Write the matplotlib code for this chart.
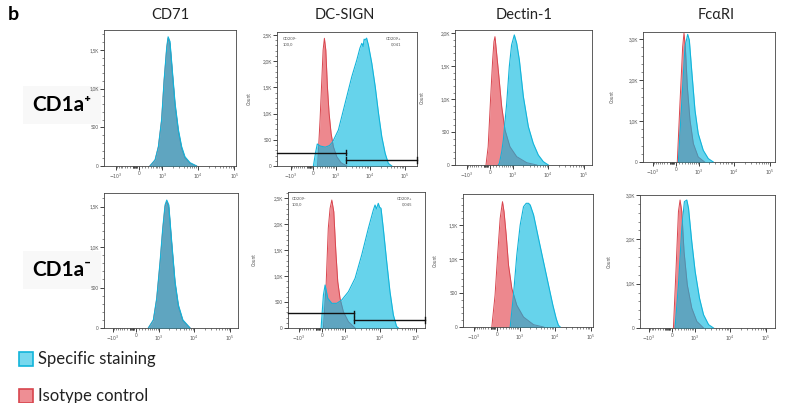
import numpy as np
import matplotlib
matplotlib.use('Agg')
import matplotlib.pyplot as plt
from matplotlib.patches import Rectangle
from matplotlib.ticker import FixedLocator, FixedFormatter

plt.rcParams['font.family'] = ['Lato', 'DejaVu Sans']

# ---------------- data ----------------
markers = ['CD71', 'DC-SIGN', 'Dectin-1', 'FcαRI']
populations = ['CD1a⁺', 'CD1a⁻']
legend_labels = ['Specific staining', 'Isotype control']

x_ticks = [-1000, 0, 1000, 10000, 100000]
x_ticklabels = [r'$-10^3$', '0', r'$10^3$', r'$10^4$', r'$10^5$']

# CD1a+ row
cd71_pos_x = [360, 580, 750, 950, 1130, 1350, 1480, 1670, 1980, 2330, 2890, 3550, 4380, 6040, 9180]
cd71_pos_spec = [0, 80, 250, 600, 1110, 1540, 1670, 1610, 1200, 810, 465, 250, 120, 43, 0]
cd71_pos_iso = [0, 75, 245, 590, 1100, 1520, 1650, 1580, 1170, 780, 440, 230, 105, 35, 0]

dcsign_pos_iso_x = [135, 218, 281, 330, 381, 439, 511, 592, 698, 834, 1073, 1445, 2145]
dcsign_pos_iso = [0, 878, 1641, 2213, 2437, 2213, 1513, 1005, 624, 368, 177, 64, 0]
dcsign_pos_spec_x = [0, 67, 124, 230, 418, 614, 788, 1203, 1913, 3000, 4180, 5150, 5830, 6350,
                     6780, 7240, 7990, 8990, 11260, 14100, 17500, 21700, 27100, 33300, 42000]
dcsign_pos_spec = [0, 250, 420, 380, 360, 390, 460, 687, 1196, 1704, 2022, 2250, 2341, 2280,
                   2420, 2404, 2440, 2309, 1959, 1513, 1005, 559, 242, 51, 0]

dectin_pos_iso_x = [-124, -56, 22, 83, 124, 157, 268, 397, 538, 797, 1285, 2507, 4800]
dectin_pos_iso = [0, 278, 1037, 1595, 1873, 1949, 1443, 886, 532, 278, 127, 35, 0]
dectin_pos_spec_x = [268, 307, 397, 463, 620, 759, 900, 1092, 1285, 1540, 2010, 2782, 3810, 5270, 7290, 10050]
dectin_pos_spec = [0, 25, 202, 380, 937, 1493, 1823, 1975, 1848, 1595, 1037, 582, 329, 152, 50, 0]

fcari_pos_iso_x = [40, 124, 213, 259, 307, 383, 495, 656, 947, 1480]
fcari_pos_iso = [0, 1431, 2817, 3150, 2817, 1838, 1022, 450, 123, 0]
fcari_pos_spec_x = [73, 180, 293, 397, 465, 572, 745, 947, 1345, 1890, 2630]
fcari_pos_spec = [0, 1431, 2817, 3120, 2980, 2246, 1266, 694, 286, 82, 0]

# CD1a- row
cd71_neg_x = [420, 650, 840, 1070, 1285, 1505, 1685, 1925, 2330, 2900, 3600, 4800, 7620]
cd71_neg_spec = [0, 100, 367, 820, 1230, 1520, 1580, 1520, 1066, 572, 284, 100, 0]
cd71_neg_iso = [0, 95, 355, 800, 1210, 1500, 1560, 1490, 1040, 550, 265, 90, 0]

dcsign_neg_iso_x = [50, 135, 206, 268, 331, 408, 495, 584, 701, 900, 1285, 2005]
dcsign_neg_iso = [0, 830, 1924, 2310, 2470, 2245, 1473, 894, 573, 315, 122, 0]
dcsign_neg_spec_x = [-22, 50, 103, 190, 331, 538, 797, 1285, 2005, 3090, 4750, 6540, 7290, 8000,
                     8970, 9800, 10700, 12370, 15400, 19000, 23600, 29000, 32600]
dcsign_neg_spec = [0, 637, 830, 573, 476, 476, 540, 701, 959, 1409, 1924, 2277, 2374, 2300,
                   2406, 2330, 2310, 1924, 1280, 701, 251, 30, 0]

dectin_neg_iso_x = [-158, -56, 31, 103, 178, 230, 307, 395, 538, 797, 1285, 2507, 4800]
dectin_neg_iso = [0, 467, 1106, 1599, 1844, 1696, 1352, 910, 566, 320, 147, 34, 0]
dectin_neg_spec_x = [463, 614, 797, 1019, 1285, 1540, 1800, 2010, 2507, 3450, 4760, 6570, 8680, 10740, 12370, 13900]
dectin_neg_spec = [0, 467, 1057, 1500, 1770, 1820, 1820, 1795, 1648, 1303, 959, 615, 320, 123, 25, 0]

fcari_neg_iso_x = [51, 135, 212, 268, 330, 418, 560, 797, 1145, 1800]
fcari_neg_iso = [0, 1350, 2625, 2887, 2625, 1725, 975, 450, 150, 0]
fcari_neg_spec_x = [101, 212, 330, 432, 538, 620, 797, 1019, 1373, 1800, 2507, 3450]
fcari_neg_spec = [0, 975, 2250, 2850, 2887, 2700, 1950, 1275, 675, 300, 75, 0]

# y-axis ticks per panel
yticks_pos = [[0, 500, 1000, 1500], [0, 500, 1000, 1500, 2000, 2500],
              [0, 500, 1000, 1500, 2000], [0, 1000, 2000, 3000]]
yticks_neg = [[0, 500, 1000, 1500], [0, 500, 1000, 1500, 2000, 2500],
              [0, 500, 1000, 1500], [0, 1000, 2000, 3000]]
ymax_pos = [1758, 2557, 2050, 3178]
ymax_neg = [1667, 2625, 1957, 3000]

# DC-SIGN gates (threshold, left gate height, right gate height)
gate_pos = (2000, 254, 114)
gate_neg = (1910, 283, 154)
gate_labels_pos = ('CD209-\n100,0', 'CD209+\n0,041')
gate_labels_neg = ('CD209-\n100,0', 'CD209+\n0,045')

# ---------------- styling / layout ----------------
W, H = 787, 403
fig = plt.figure(figsize=(W / 100, H / 100), dpi=100)

RED_FILL, RED_EDGE = '#e1323c', '#d8454e'
BLUE_FILL, BLUE_EDGE = '#08b8e0', '#12b4da'

C = 483.0
def fwd(x):
    return np.arcsinh(np.asarray(x, float) / C) / np.log(10)
def inv(u):
    return C * np.sinh(np.asarray(u, float) * np.log(10))

boxes = [[(104, 236, 30, 166), (277, 417, 32, 166), (455, 592, 30, 165), (643, 775, 32, 162)],
         [(104, 238, 193, 328), (288, 425, 192, 328), (463, 593, 194, 327), (640, 775, 195, 328)]]
ulims = [[(-0.96, 2.66), (-1.04, 2.96), (-0.97, 2.83), (-0.92, 2.76)],
         [(-0.89, 2.83), (-0.94, 2.87), (-0.94, 2.67), (-0.88, 2.86)]]
count_offsets = [[None, 25, 30, 28], [None, 31, 25, 28]]

rows = [
    [(cd71_pos_x, cd71_pos_iso, cd71_pos_x, cd71_pos_spec),
     (dcsign_pos_iso_x, dcsign_pos_iso, dcsign_pos_spec_x, dcsign_pos_spec),
     (dectin_pos_iso_x, dectin_pos_iso, dectin_pos_spec_x, dectin_pos_spec),
     (fcari_pos_iso_x, fcari_pos_iso, fcari_pos_spec_x, fcari_pos_spec)],
    [(cd71_neg_x, cd71_neg_iso, cd71_neg_x, cd71_neg_spec),
     (dcsign_neg_iso_x, dcsign_neg_iso, dcsign_neg_spec_x, dcsign_neg_spec),
     (dectin_neg_iso_x, dectin_neg_iso, dectin_neg_spec_x, dectin_neg_spec),
     (fcari_neg_iso_x, fcari_neg_iso, fcari_neg_spec_x, fcari_neg_spec)],
]
yticks_rows = [yticks_pos, yticks_neg]
ymax_rows = [ymax_pos, ymax_neg]
gates = [gate_pos, gate_neg]
gate_texts = [gate_labels_pos, gate_labels_neg]
gate_text_x = [(0.04, 0.89), (0.03, 0.905)]


def ylab(v):
    if v == 0:
        return '0'
    if v < 1000:
        return str(v)
    return ('%.1fK' % (v / 1000)).replace('.', ',')

x_minor = list(range(-900, 1000, 100)) + list(range(-200, -40, 15)) + \
    [m * 10 ** e for e in (3, 4) for m in range(2, 10)]

# row labels (drawn beneath the axes so tick labels stay visible)
row_y = [105, 270]
for lab, yc in zip(populations, row_y):
    fig.text(62 / W, 1 - yc / H, lab, ha='center', va='center', fontsize=15, fontweight='bold',
             family=['Lato', 'DejaVu Sans'], zorder=-1,
             bbox=dict(boxstyle='square,pad=0.45', fc='#f8f8f8', ec='none'))

for r in range(2):
    for c in range(4):
        l, rr, t, b = boxes[r][c]
        ax = fig.add_axes([l / W, 1 - b / H, (rr - l) / W, (b - t) / H])
        ax.set_xscale('function', functions=(fwd, inv))
        ix, iy, sx, sy = rows[r][c]
        ax.fill_between(ix, iy, 0, color=RED_FILL, alpha=0.58, lw=0, zorder=2)
        ax.plot(ix, iy, color=RED_EDGE, lw=0.7, zorder=3)
        ax.fill_between(sx, sy, 0, color=BLUE_FILL, alpha=0.62, lw=0, zorder=4)
        ax.plot(sx, sy, color=BLUE_EDGE, lw=0.8, zorder=5)
        x0, x1 = inv(ulims[r][c][0]), inv(ulims[r][c][1])
        ax.set_xlim(x0, x1)
        yt = yticks_rows[r][c]
        ymax = ymax_rows[r][c]
        ax.set_ylim(0, ymax)
        ax.xaxis.set_major_locator(FixedLocator(x_ticks))
        ax.xaxis.set_major_formatter(FixedFormatter(x_ticklabels))
        ax.xaxis.set_minor_locator(FixedLocator(x_minor))
        ax.yaxis.set_major_locator(FixedLocator(yt))
        ax.yaxis.set_major_formatter(FixedFormatter([ylab(v) for v in yt]))
        step = (yt[1] - yt[0]) / 5
        ax.yaxis.set_minor_locator(FixedLocator(np.arange(0, ymax, step)))
        ax.tick_params(which='major', length=2.6, width=0.6, color='#222',
                       labelsize=3.3, labelcolor='#555', pad=1.2)
        ax.tick_params(which='minor', length=1.3, width=0.4, color='#333')
        for s in ax.spines.values():
            s.set_color('#444')
            s.set_linewidth(0.6)
        if count_offsets[r][c] is not None:
            ax.set_ylabel('Count', fontsize=3.4, color='#555')
            ax.yaxis.set_label_coords(-count_offsets[r][c] / (rr - l), 0.5)
        if c == 1:
            thr, gl, gr = gates[r]
            hb = ymax * 0.02
            ax.plot([x0, thr], [gl, gl], color='#111', lw=1.0, zorder=6, clip_on=False)
            ax.plot([thr, thr], [gl - hb, gl + hb], color='#111', lw=1.0, zorder=6)
            ax.plot([thr, x1], [gr, gr], color='#111', lw=1.0, zorder=6, clip_on=False)
            ax.plot([thr, thr], [gr - hb, gr + hb], color='#111', lw=1.0, zorder=6)
            ax.plot([x1, x1], [gr - hb, gr + hb], color='#111', lw=1.0, zorder=6, clip_on=False)
            lt, rt = gate_texts[r]
            lx, rx = gate_text_x[r]
            ax.text(lx, 0.96, lt, transform=ax.transAxes, fontsize=3.0, color='#555',
                    ha='left', va='top', linespacing=1.5)
            ax.text(rx, 0.96, rt, transform=ax.transAxes, fontsize=3.0, color='#555',
                    ha='right', va='top', linespacing=1.5)

# column titles
title_x = [170, 345, 524, 716]
for name, xc in zip(markers, title_x):
    fig.text(xc / W, 1 - 15 / H, name, ha='center', va='center', fontsize=10.5, color='#222')

# panel letter
fig.text(8 / W, 1 - 14 / H, 'b', ha='left', va='center', fontsize=14, fontweight='bold')

# legend
leg = [(BLUE_FILL, BLUE_EDGE, 359, legend_labels[0]), (RED_FILL, RED_EDGE, 396, legend_labels[1])]
for fc, ec, yc, lab in leg:
    fig.patches.append(Rectangle((19 / W, 1 - (yc + 7) / H), 14 / W, 14 / H,
                                 transform=fig.transFigure, fc=fc, alpha=0.55, ec='none'))
    fig.patches.append(Rectangle((19 / W, 1 - (yc + 7) / H), 14 / W, 14 / H,
                                 transform=fig.transFigure, fc='none', ec=ec, lw=1.2))
    fig.text(38 / W, 1 - yc / H, lab, ha='left', va='center', fontsize=12, color='#222')

fig.savefig('out.png', dpi=100)
